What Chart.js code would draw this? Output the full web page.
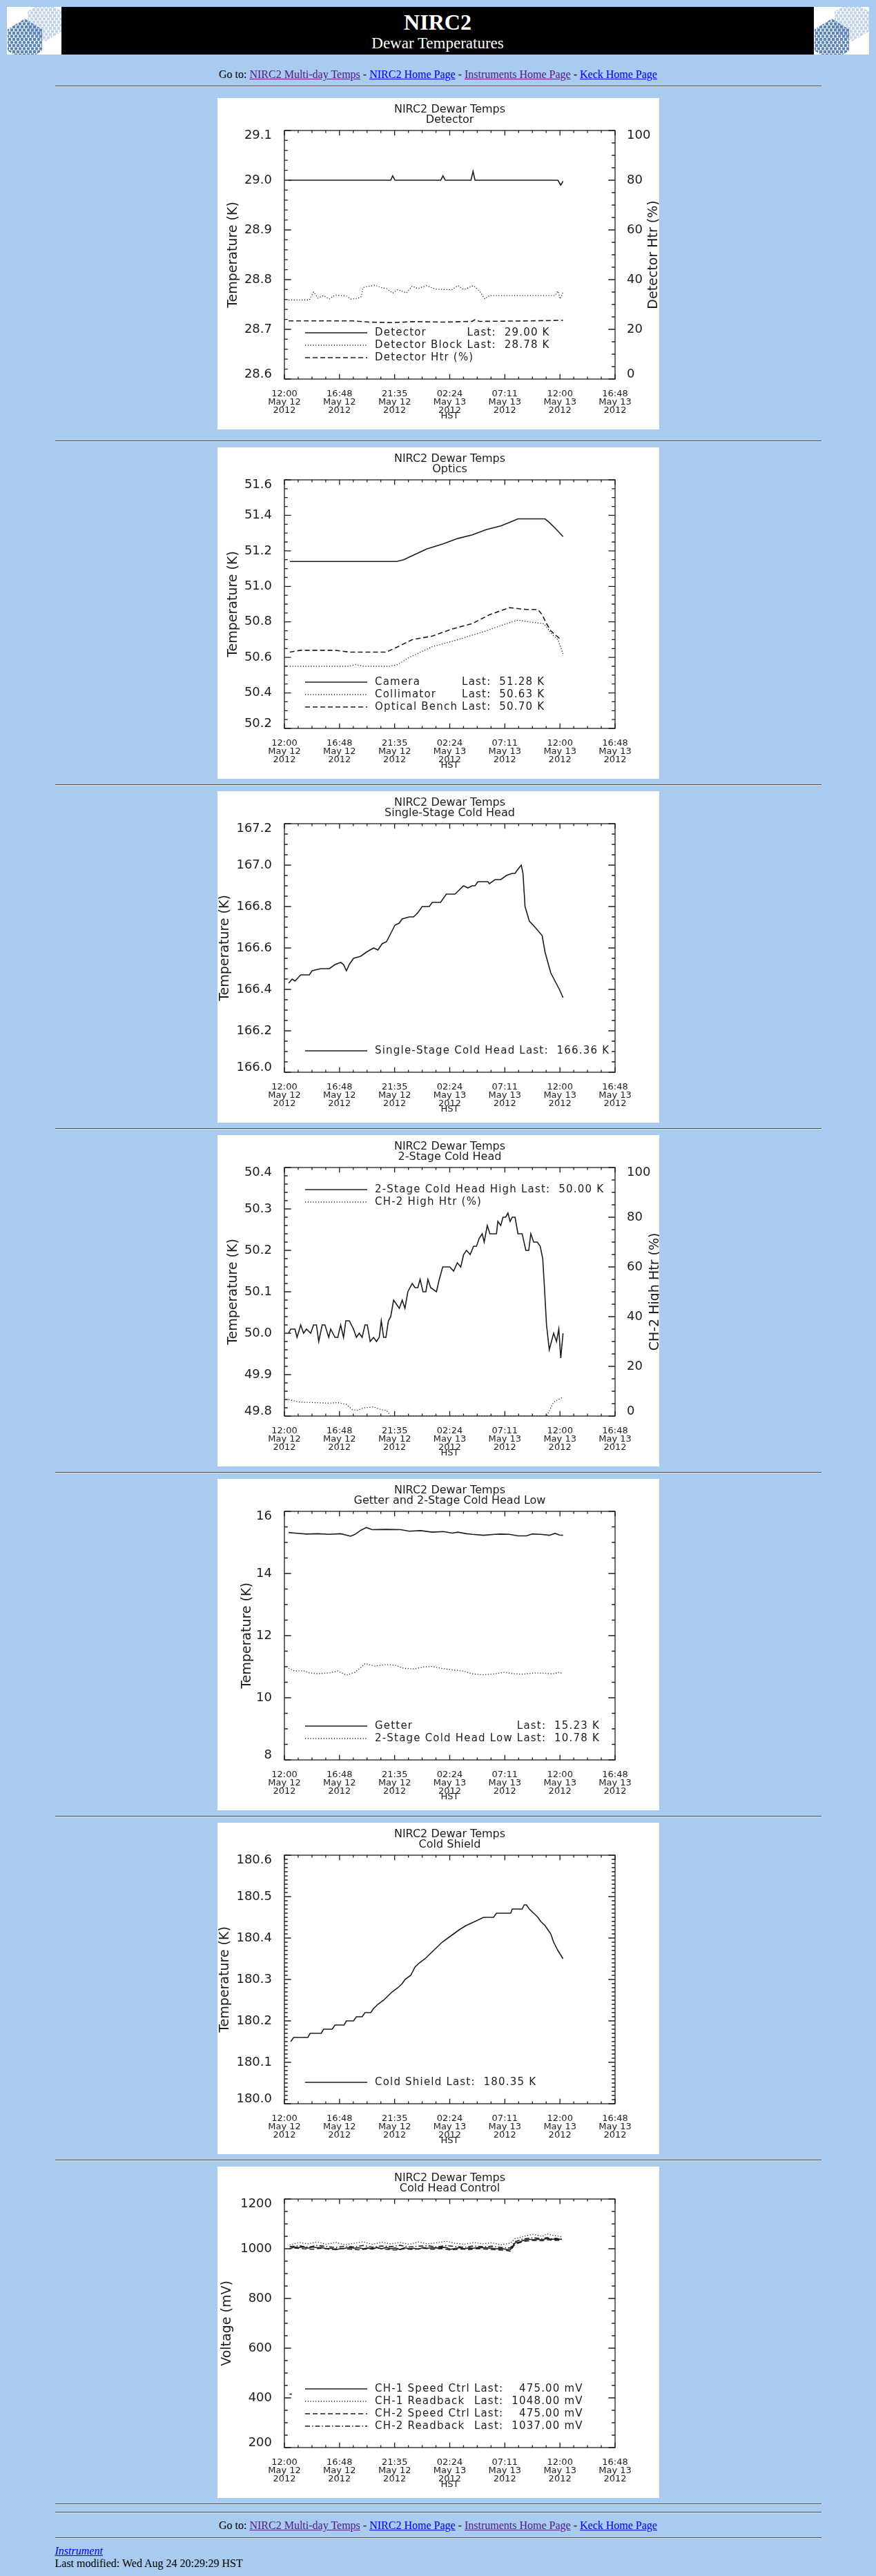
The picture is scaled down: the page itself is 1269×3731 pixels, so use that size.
<!DOCTYPE html>
<html>
<head>
<meta charset="utf-8">
<title>NIRC2 Dewar Temperatures</title>
<script src="https://cdn.jsdelivr.net/npm/chart.js@4.4.1/dist/chart.umd.min.js"></script>
<style>
  body { background: #a9cbf0; margin: 10px 10px 0 10px; font-family: "Liberation Serif", "Times New Roman", serif; font-size: 16px; color: #000; }
  .banner { display: flex; height: 69px; }
  .logo { width: 79px; background: #fff; position: relative; overflow: hidden; }
  .logo.r { width: 80px; }
  .hex { position: absolute; clip-path: polygon(50% 0, 100% 25%, 100% 75%, 50% 100%, 0 75%, 0 25%);
         background-image: radial-gradient(circle at 3px 3px, var(--c) 2.1px, transparent 2.7px),
                           radial-gradient(circle at 3px 3px, var(--c) 2.1px, transparent 2.7px);
         background-size: 6px 9px; background-position: 0 0, 3px 4.5px; }
  .hex.light { --c: #c3d3e6; left: 30px; top: -8px; width: 50px; height: 58px; }
  .hex.dark { --c: #5d84b2; left: 1px; top: 17px; width: 50px; height: 62px; }
  .mid { flex: 1; background: #000; color: #fff; text-align: center; }
  .mid .t1 { font-size: 32px; font-weight: bold; line-height: 36px; padding-top: 4px; }
  .mid .t2 { font-size: 23px; line-height: 26px; }
  .goto { text-align: center; line-height: 18px; margin: 0; }
  .goto a { text-decoration: underline; }
  a.v { color: #551a8b; }
  a.b { color: #0000ee; }
  hr { width: 1110px; margin: 8px auto; border: 0; border-top: 1px solid #4a4a4a; border-bottom: 1px solid #dfe6ee; height: 0; }
  canvas { display: block; margin: 0 auto; background: #fff; }
  .foot { width: 1110px; margin: 0 auto; line-height: 18px; }
</style>
</head>
<body>
<div class="banner">
  <div class="logo"><div class="hex light"></div><div class="hex dark"></div></div>
  <div class="mid"><div class="t1">NIRC2</div><div class="t2">Dewar Temperatures</div></div>
  <div class="logo r"><div class="hex light"></div><div class="hex dark"></div></div>
</div>
<p class="goto" style="margin-top:20px">Go to: <a class="v" href="#">NIRC2 Multi-day Temps</a> - <a class="b" href="#">NIRC2 Home Page</a> - <a class="v" href="#">Instruments Home Page</a> - <a class="b" href="#">Keck Home Page</a></p>
<hr style="margin-top:7px;margin-bottom:16px">
<canvas id="c1" width="640" height="480"></canvas>
<hr style="margin-top:16px">
<canvas id="c2" width="640" height="480"></canvas>
<hr>
<canvas id="c3" width="640" height="480"></canvas>
<hr>
<canvas id="c4" width="640" height="480"></canvas>
<hr>
<canvas id="c5" width="640" height="480"></canvas>
<hr>
<canvas id="c6" width="640" height="480"></canvas>
<hr>
<canvas id="c7" width="640" height="480"></canvas>
<hr style="margin-bottom:0">
<hr style="margin-top:10px;margin-bottom:9px">
<p class="goto">Go to: <a class="v" href="#">NIRC2 Multi-day Temps</a> - <a class="b" href="#">NIRC2 Home Page</a> - <a class="v" href="#">Instruments Home Page</a> - <a class="b" href="#">Keck Home Page</a></p>
<hr style="margin-bottom:9px">
<div class="foot"><a class="b" href="#"><i>Instrument</i></a><br>Last modified: Wed Aug 24 20:29:29 HST</div>

<script>
// NIRC2 dewar temperature plots, 12:00 May 12 -> 16:48 May 13 2012 (HST)
// x values are hours since 12:00 HST May 12

const xTickHours = [0, 4.8, 9.6, 14.4, 19.2, 24, 28.8];
const xTimeLabels = ['12:00', '16:48', '21:35', '02:24', '07:11', '12:00', '16:48'];
const xDateLabels = ['May 12', 'May 12', 'May 12', 'May 13', 'May 13', 'May 13', 'May 13'];
const xYearLabels = ['2012', '2012', '2012', '2012', '2012', '2012', '2012'];

const subtitles = ['Detector', 'Optics', 'Single-Stage Cold Head', '2-Stage Cold Head',
  'Getter and 2-Stage Cold Head Low', 'Cold Shield', 'Cold Head Control'];

// --- Detector
const detTicks = [28.6, 28.7, 28.8, 28.9, 29.0, 29.1];
const htrTicks = [0, 20, 40, 60, 80, 100];
const detectorPts = [[0.37, 29.0], [9.26, 29.0], [9.43, 29.009], [9.63, 29.0], [13.62, 29.0], [13.81, 29.009],
  [14.01, 29.0], [16.25, 29.0], [16.43, 29.018], [16.6, 29.0], [23.82, 29.0], [24.07, 28.99], [24.27, 28.998]];
const detBlockPts = [[0.37, 28.759], [2.17, 28.759], [2.54, 28.775], [2.91, 28.763], [3.41, 28.768], [3.91, 28.761],
  [4.41, 28.769], [4.9, 28.768], [5.4, 28.767], [5.77, 28.761], [6.4, 28.762], [6.7, 28.766], [6.85, 28.784],
  [7.39, 28.787], [7.89, 28.789], [8.39, 28.784], [8.89, 28.782], [9.43, 28.773], [9.88, 28.78], [10.63, 28.773],
  [11.13, 28.787], [11.62, 28.782], [12.37, 28.788], [13.12, 28.781], [13.86, 28.78], [14.61, 28.78], [15.11, 28.788],
  [15.61, 28.78], [16.48, 28.788], [16.98, 28.777], [17.47, 28.761], [17.85, 28.768], [21.33, 28.768], [23.57, 28.768],
  [23.82, 28.777], [24.02, 28.761], [24.27, 28.775]];
const detHtrPts = [[0.37, 23.4], [6.0, 23.4], [7.39, 22.9], [9.38, 22.7], [11.38, 23.1], [13.86, 22.9], [16.35, 23.2],
  [16.6, 23.9], [16.98, 23.2], [21.33, 23.4], [23.82, 23.6], [24.27, 23.6]];
const detLast = ['29.00 K', '28.78 K', null];

// --- Optics
const opticsTicks = [50.2, 50.4, 50.6, 50.8, 51.0, 51.2, 51.4, 51.6];
const cameraPts = [[0.47, 51.14], [9.76, 51.14], [10.38, 51.15], [11.38, 51.18], [12.37, 51.21], [13.86, 51.24],
  [15.11, 51.27], [16.35, 51.29], [17.6, 51.32], [18.84, 51.34], [19.59, 51.36], [20.34, 51.38], [22.7, 51.38],
  [23.07, 51.36], [23.7, 51.32], [24.27, 51.28]];
const collimatorPts = [[0.47, 50.55], [5.65, 50.55], [6.15, 50.56], [6.9, 50.55], [9.14, 50.55], [9.88, 50.56],
  [10.88, 50.6], [12.87, 50.66], [15.11, 50.7], [17.6, 50.75], [19.34, 50.79], [20.34, 50.81], [21.33, 50.8],
  [22.58, 50.79], [22.83, 50.77], [23.32, 50.73], [23.82, 50.7], [24.27, 50.62]];
const benchPts = [[0.47, 50.63], [1.42, 50.64], [4.41, 50.64], [5.65, 50.63], [8.89, 50.63], [9.88, 50.66],
  [11.13, 50.7], [12.87, 50.72], [14.61, 50.76], [16.35, 50.79], [17.85, 50.84], [19.59, 50.88], [21.08, 50.87],
  [22.08, 50.87], [22.45, 50.84], [22.83, 50.79], [23.2, 50.75], [24.07, 50.7]];
const opticsLast = ['51.28 K', '50.63 K', '50.70 K'];

// --- Single-stage cold head
const sscTicks = [166.0, 166.2, 166.4, 166.6, 166.8, 167.0, 167.2];
const sscPts = [[0.37, 166.43], [0.67, 166.45], [0.92, 166.44], [1.42, 166.47], [2.17, 166.47], [2.41, 166.49],
  [3.16, 166.5], [3.91, 166.5], [4.41, 166.52], [4.9, 166.53], [5.15, 166.52], [5.4, 166.49], [5.65, 166.52],
  [6.02, 166.55], [6.65, 166.56], [7.14, 166.58], [7.77, 166.6], [8.14, 166.59], [8.51, 166.62], [8.89, 166.63],
  [9.26, 166.67], [9.63, 166.71], [10.0, 166.72], [10.25, 166.74], [10.88, 166.75], [11.25, 166.75], [11.62, 166.77],
  [12.0, 166.8], [12.62, 166.8], [12.87, 166.82], [13.6, 166.82], [14.1, 166.86], [14.86, 166.86], [15.6, 166.9],
  [15.98, 166.89], [16.35, 166.9], [16.6, 166.9], [16.85, 166.92], [17.72, 166.92], [17.85, 166.91], [18.35, 166.93],
  [18.84, 166.93], [19.34, 166.95], [19.84, 166.96], [20.09, 166.96], [20.34, 166.98], [20.63, 167.0], [20.78, 166.96],
  [20.96, 166.8], [21.33, 166.73], [21.83, 166.7], [22.45, 166.66], [22.7, 166.58], [22.95, 166.53], [23.2, 166.48],
  [23.57, 166.44], [23.95, 166.4], [24.27, 166.36]];
const sscLast = ['166.36 K'];

// --- 2-stage cold head high
const ch2Ticks = [49.8, 49.9, 50.0, 50.1, 50.2, 50.3, 50.4];
const ch2HighPts = [[0.37, 50.0], [0.55, 50.01], [0.92, 50.01], [1.1, 49.99], [1.42, 50.02], [1.67, 50.0], [1.92, 50.01],
  [2.29, 50.0], [2.54, 50.02], [2.79, 50.02], [2.99, 49.98], [3.29, 50.02], [3.53, 50.02], [3.86, 49.99], [4.03, 50.01],
  [4.41, 49.99], [4.65, 49.99], [4.9, 50.02], [5.15, 49.99], [5.35, 50.03], [5.65, 50.03], [6.02, 50.01], [6.27, 49.99],
  [6.52, 50.0], [6.77, 49.99], [7.02, 50.02], [7.22, 50.02], [7.47, 49.98], [7.77, 49.99], [8.02, 49.98], [8.26, 49.99],
  [8.44, 50.03], [8.64, 49.99], [8.84, 49.99], [9.06, 50.03], [9.26, 50.04], [9.51, 50.08], [9.76, 50.07], [10.01, 50.06],
  [10.26, 50.08], [10.5, 50.06], [10.75, 50.1], [11.13, 50.12], [11.38, 50.11], [11.62, 50.11], [11.82, 50.13],
  [12.07, 50.1], [12.32, 50.1], [12.5, 50.13], [12.74, 50.11], [13.24, 50.1], [13.49, 50.13], [13.79, 50.16],
  [14.11, 50.16], [14.41, 50.16], [14.74, 50.15], [15.06, 50.17], [15.36, 50.16], [15.61, 50.19], [15.86, 50.2],
  [16.18, 50.19], [16.48, 50.21], [16.73, 50.21], [16.98, 50.23], [17.23, 50.24], [17.4, 50.22], [17.67, 50.26],
  [17.9, 50.24], [18.22, 50.24], [18.47, 50.24], [18.59, 50.27], [18.84, 50.26], [19.04, 50.28], [19.27, 50.28],
  [19.47, 50.29], [19.66, 50.27], [19.84, 50.28], [20.09, 50.28], [20.34, 50.24], [20.71, 50.24], [21.03, 50.2],
  [21.28, 50.2], [21.46, 50.24], [21.71, 50.22], [22.03, 50.22], [22.28, 50.21], [22.5, 50.18], [22.63, 50.12],
  [22.83, 50.02], [23.07, 49.96], [23.45, 50.0], [23.7, 49.98], [23.9, 50.01], [24.07, 49.94], [24.27, 50.0]];
const ch2HtrPts = [[0.37, 6.6], [1.42, 5.6], [2.66, 5.4], [3.91, 5.2], [4.65, 5.4], [5.4, 4.7], [5.9, 2.6], [6.4, 2.3],
  [6.9, 3.3], [7.77, 3.7], [8.39, 2.6], [8.89, 2.3], [9.26, 0], [22.83, 0], [23.45, 5.6], [24.2, 7.5]];
const ch2Last = ['50.00 K', null];

// --- Getter and 2-stage cold head low
const getterTicks = [8, 10, 12, 14, 16];
const getterPts = [[0.37, 15.32], [0.92, 15.3], [1.92, 15.27], [2.91, 15.28], [3.91, 15.26], [4.9, 15.28], [5.77, 15.2],
  [6.15, 15.26], [6.65, 15.39], [7.14, 15.48], [7.64, 15.41], [8.89, 15.42], [10.13, 15.41], [10.88, 15.36],
  [11.87, 15.38], [12.87, 15.33], [13.86, 15.35], [14.61, 15.3], [15.11, 15.33], [15.86, 15.28], [16.35, 15.26],
  [17.35, 15.23], [18.35, 15.26], [18.84, 15.27], [19.59, 15.26], [20.34, 15.21], [21.08, 15.21], [21.58, 15.27],
  [22.33, 15.26], [23.07, 15.23], [23.57, 15.29], [23.95, 15.24], [24.27, 15.23]];
const ch2LowPts = [[0.37, 10.95], [0.92, 10.86], [1.67, 10.87], [2.17, 10.8], [2.91, 10.78], [3.91, 10.8], [4.65, 10.86],
  [5.4, 10.73], [6.15, 10.82], [6.65, 10.97], [7.02, 11.1], [7.89, 11.02], [8.89, 11.07], [9.63, 11.05], [10.38, 10.95],
  [11.38, 10.93], [12.12, 10.99], [12.87, 11.01], [13.62, 10.95], [14.61, 10.9], [15.61, 10.86], [16.35, 10.77],
  [17.35, 10.74], [18.35, 10.77], [19.09, 10.82], [20.09, 10.77], [20.83, 10.76], [21.83, 10.8], [22.58, 10.79],
  [23.32, 10.77], [23.95, 10.82], [24.2, 10.78]];
const getterLast = ['15.23 K', '10.78 K'];

// --- Cold shield
const shieldTicks = [180.0, 180.1, 180.2, 180.3, 180.4, 180.5, 180.6];
const shieldPts = [[0.55, 180.15], [0.8, 180.16], [2.04, 180.16], [2.24, 180.17], [3.21, 180.17], [3.41, 180.18],
  [4.16, 180.18], [4.41, 180.19], [5.2, 180.19], [5.4, 180.2], [6.02, 180.2], [6.27, 180.21], [6.77, 180.21],
  [7.02, 180.22], [7.52, 180.22], [7.77, 180.23], [8.14, 180.24], [8.64, 180.25], [9.01, 180.26], [9.38, 180.27],
  [9.88, 180.28], [10.26, 180.29], [10.5, 180.3], [11.0, 180.31], [11.38, 180.33], [11.75, 180.34], [12.25, 180.35],
  [12.62, 180.36], [12.99, 180.37], [13.37, 180.38], [13.74, 180.39], [14.24, 180.4], [14.74, 180.41], [15.23, 180.42],
  [15.81, 180.43], [16.6, 180.44], [17.35, 180.45], [18.22, 180.45], [18.47, 180.46], [19.71, 180.46], [19.84, 180.47],
  [20.71, 180.47], [20.88, 180.48], [21.08, 180.48], [21.33, 180.47], [21.71, 180.46], [22.08, 180.45], [22.33, 180.44],
  [22.7, 180.43], [22.95, 180.42], [23.2, 180.41], [23.45, 180.39], [23.82, 180.37], [24.27, 180.35]];
const shieldLast = ['180.35 K'];

// --- Cold head control (mV)
const voltTicks = [200, 400, 600, 800, 1000, 1200];
const ch1SpeedPts = [[0.46, 1000], [0.86, 1007], [1.26, 1005], [1.66, 1007], [2.06, 1002], [2.46, 1007], [2.86, 1004],
  [3.26, 1005], [3.66, 1000], [4.06, 1002], [4.46, 996], [4.86, 1000], [5.26, 1002], [5.66, 1005], [6.06, 1002],
  [6.46, 1004], [6.86, 1000], [7.26, 1003], [7.66, 998], [8.06, 1005], [8.46, 1000], [8.86, 1005], [9.26, 1000],
  [9.66, 1003], [10.06, 997], [10.47, 1004], [10.87, 1000], [11.27, 1002], [11.67, 998], [12.07, 1005], [12.47, 1002],
  [12.87, 1004], [13.27, 1003], [13.67, 1006], [14.07, 1005], [14.47, 998], [14.87, 1001], [15.27, 1004], [15.67, 1000],
  [16.07, 1003], [16.47, 1002], [16.87, 1005], [17.27, 1004], [17.67, 1003], [18.07, 1002], [18.47, 1000], [18.87, 1001],
  [19.27, 998], [19.67, 996], [19.87, 1009], [20.07, 1023], [20.47, 1027], [20.87, 1035], [21.27, 1038], [21.67, 1036],
  [22.07, 1038], [22.47, 1036], [22.87, 1041], [23.27, 1038], [23.67, 1039], [24.17, 1038]];
const ch1ReadPts = [[0.46, 1015], [1.26, 1025], [2.06, 1020], [2.86, 1027], [3.66, 1018], [4.46, 1026], [5.26, 1016],
  [6.06, 1022], [6.86, 1028], [7.66, 1018], [8.46, 1026], [9.26, 1020], [10.06, 1025], [10.87, 1018], [11.67, 1027],
  [12.47, 1020], [13.27, 1024], [14.07, 1030], [14.87, 1022], [15.67, 1018], [16.47, 1025], [17.27, 1020], [18.07, 1024],
  [18.87, 1016], [19.67, 1022], [20.07, 1040], [20.87, 1050], [21.67, 1058], [22.47, 1050], [22.87, 1060], [23.27, 1055],
  [23.67, 1052], [24.17, 1048]];
const ch2SpeedPts = [[0.45, 415], [0.65, 415], [0.7, null], [0.86, 1003], [1.66, 1000], [2.46, 998], [3.26, 1002],
  [4.06, 997], [4.86, 1001], [5.66, 999], [6.46, 996], [7.26, 1000], [8.06, 1003], [8.86, 998], [9.66, 995], [10.47, 1000],
  [11.27, 997], [12.07, 1002], [12.87, 998], [13.67, 1001], [14.47, 995], [15.27, 999], [16.07, 997], [16.87, 1001],
  [17.67, 998], [18.47, 996], [19.27, 994], [19.67, 990], [20.07, 1018], [20.87, 1030], [21.67, 1034], [22.47, 1032],
  [22.87, 1036], [23.67, 1034], [24.17, 1034]];
const ch2ReadPts = [[0.46, 1008], [1.26, 1012], [2.06, 1006], [2.86, 1013], [3.66, 1009], [4.46, 1005], [5.26, 1010],
  [6.06, 1007], [6.86, 1013], [7.66, 1006], [8.46, 1011], [9.26, 1008], [10.06, 1014], [10.87, 1007], [11.67, 1010],
  [12.47, 1012], [13.27, 1007], [14.07, 1013], [14.87, 1009], [15.67, 1006], [16.47, 1011], [17.27, 1008], [18.07, 1010],
  [18.87, 1005], [19.67, 1003], [20.07, 1028], [20.87, 1040], [21.67, 1044], [22.47, 1040], [22.87, 1045], [23.27, 1040],
  [23.67, 1042], [24.17, 1037]];
const voltLast = ['475.00 mV', '1048.00 mV', '475.00 mV', '1037.00 mV'];

const ink = '#1c1c1c';
const SOLID = [], DOTTED = [1.2, 2.6], DASHED = [7, 4], DASHDOT = [7, 3, 1.5, 3];
const FONT = '"DejaVu Sans", sans-serif';

Chart.defaults.font.family = FONT;
Chart.defaults.color = ink;

function series(label, pts, dash, axis) {
  return {
    label,
    data: pts.map(p => ({ x: p[0], y: p[1] })),
    borderColor: ink,
    borderWidth: dash === DOTTED ? 1.3 : 1.6,
    borderDash: dash,
    pointRadius: 0,
    tension: 0,
    fill: false,
    spanGaps: false,
    yAxisID: axis || 'y'
  };
}

// minor/major tick positions between min and max
function steps(min, max, minor, major) {
  const out = [];
  const n = Math.round((max - min) / minor);
  for (let k = 0; k <= n; k++) {
    const r = k * minor / major;
    out.push([min + k * minor, Math.abs(r - Math.round(r)) < 1e-6]);
  }
  return out;
}

// IDL style box with inward ticks on all four sides, plus rotated right-axis title
const idlFrame = {
  id: 'idlFrame',
  afterDatasetsDraw(chart, args, o) {
    const { ctx, chartArea: a, scales } = chart;
    ctx.save();
    ctx.strokeStyle = ink;
    ctx.lineWidth = 1.3;
    ctx.strokeRect(a.left, a.top, a.right - a.left, a.bottom - a.top);
    ctx.beginPath();
    steps(xTickHours[0], xTickHours[xTickHours.length - 1], 1.2, 4.8).forEach(([v, major]) => {
      const px = scales.x.getPixelForValue(v);
      const len = major ? 7.2 : 3.6;
      ctx.moveTo(px, a.bottom); ctx.lineTo(px, a.bottom - len);
      ctx.moveTo(px, a.top); ctx.lineTo(px, a.top + len);
    });
    const L = o.left, R = o.right || o.left;
    const yr = scales.y2 || scales.y;
    steps(L.ticks[0], L.ticks[L.ticks.length - 1], L.minor, L.major).forEach(([v, major]) => {
      const py = scales.y.getPixelForValue(v);
      ctx.moveTo(a.left, py); ctx.lineTo(a.left + (major ? 9.6 : 4.8), py);
    });
    steps(R.ticks[0], R.ticks[R.ticks.length - 1], R.minor, R.major).forEach(([v, major]) => {
      const py = yr.getPixelForValue(v);
      ctx.moveTo(a.right, py); ctx.lineTo(a.right - (major ? 9.6 : 4.8), py);
    });
    ctx.stroke();
    if (o.right) {
      ctx.translate(o.right.titleX, (a.top + a.bottom) / 2);
      ctx.rotate(-Math.PI / 2);
      ctx.font = '19px ' + FONT;
      ctx.fillStyle = ink;
      ctx.textAlign = 'center';
      ctx.textBaseline = 'middle';
      ctx.fillText(o.right.title, 0, 0);
    }
    ctx.restore();
  }
};

// legend rows drawn inside the plot: line sample, name, "Last:" column
const idlLegend = {
  id: 'idlLegend',
  afterDraw(chart, args, o) {
    const { ctx, chartArea: a } = chart;
    const sets = chart.data.datasets;
    ctx.save();
    ctx.font = '15px ' + FONT;
    ctx.letterSpacing = '1.2px';
    ctx.fillStyle = ink;
    ctx.strokeStyle = ink;
    const x0 = a.left + 131;
    let nameW = 0, valW = 0;
    sets.forEach((d, i) => {
      if (o.last[i]) {
        nameW = Math.max(nameW, ctx.measureText(d.label + ' ').width);
        valW = Math.max(valW, ctx.measureText(o.last[i]).width);
      }
    });
    const lastW = ctx.measureText('Last:  ').width;
    sets.forEach((d, i) => {
      const y = o.anchor === 'top' ? a.top + 32 + i * 18 : a.bottom - 31 - (sets.length - 1 - i) * 18;
      ctx.lineWidth = d.borderWidth;
      ctx.setLineDash(d.borderDash);
      ctx.beginPath();
      ctx.moveTo(a.left + 30, y);
      ctx.lineTo(a.left + 120, y);
      ctx.stroke();
      ctx.setLineDash([]);
      ctx.textBaseline = 'middle';
      ctx.textAlign = 'left';
      ctx.fillText(d.label, x0, y);
      if (o.last[i]) {
        ctx.fillText('Last:', x0 + nameW, y);
        ctx.textAlign = 'right';
        ctx.fillText(o.last[i], x0 + nameW + lastW + valW, y);
      }
    });
    ctx.restore();
  }
};

function yScale(ax, position) {
  return {
    type: 'linear',
    position,
    min: ax.ticks[0],
    max: ax.ticks[ax.ticks.length - 1],
    grid: { display: false },
    border: { display: false },
    afterFit: s => { s.width = position === 'left' ? 97 : 64; },
    afterBuildTicks: s => { s.ticks = ax.ticks.map(v => ({ value: v })); },
    ticks: {
      padding: position === 'left' ? 10 : 9,
      autoSkip: false,
      font: { size: 18, lineHeight: '14px' },
      callback: (v, i, t) => {
        const txt = Number(v).toFixed(ax.decimals);
        if (i === 0) return [txt, ''];
        if (i === t.length - 1) return ['', txt];
        return txt;
      }
    },
    title: position === 'left'
      ? { display: true, text: ax.title, font: { size: 19 }, padding: { top: ax.titlePad, bottom: 0 } }
      : { display: false }
  };
}

function makeChart(id, subtitle, datasets, left, right, legend) {
  const scales = {
    x: {
      type: 'linear',
      min: xTickHours[0],
      max: xTickHours[xTickHours.length - 1],
      grid: { display: false },
      border: { display: false },
      afterFit: s => { s.height = 73; },
      afterBuildTicks: s => { s.ticks = xTickHours.map(v => ({ value: v })); },
      ticks: {
        padding: 8,
        autoSkip: false,
        maxRotation: 0,
        font: { size: 13, lineHeight: '12px' },
        callback: (v, i) => [xTimeLabels[i], xDateLabels[i], xYearLabels[i]]
      },
      title: { display: true, text: 'HST', font: { size: 13 }, padding: { top: 0, bottom: 12 } }
    },
    y: yScale(left, 'left')
  };
  if (right) scales.y2 = yScale(right, 'right');

  return new Chart(document.getElementById(id), {
    type: 'line',
    data: { datasets },
    options: {
      responsive: false,
      animation: false,
      devicePixelRatio: 1,
      events: [],
      layout: { padding: { right: right ? 0 : 64 } },
      scales,
      plugins: {
        legend: { display: false },
        tooltip: { enabled: false },
        title: {
          display: true,
          fullSize: false,
          text: ['NIRC2 Dewar Temps', subtitle],
          color: ink,
          font: { size: 16, weight: 'normal', lineHeight: '14.5px' },
          padding: { top: 10, bottom: 8 }
        },
        idlFrame: { left, right },
        idlLegend: legend
      }
    },
    plugins: [idlFrame, idlLegend]
  });
}

makeChart('c1', subtitles[0], [
  series('Detector', detectorPts, SOLID),
  series('Detector Block', detBlockPts, DOTTED),
  series('Detector Htr (%)', detHtrPts, DASHED, 'y2')
], { ticks: detTicks, decimals: 1, minor: 0.02, major: 0.1, title: 'Temperature (K)', titlePad: 12 },
   { ticks: htrTicks, decimals: 0, minor: 5, major: 20, title: 'Detector Htr (%)', titleX: 632 },
   { anchor: 'bottom', last: detLast });

makeChart('c2', subtitles[1], [
  series('Camera', cameraPts, SOLID),
  series('Collimator', collimatorPts, DOTTED),
  series('Optical Bench', benchPts, DASHED)
], { ticks: opticsTicks, decimals: 1, minor: 0.05, major: 0.2, title: 'Temperature (K)', titlePad: 12 },
   null, { anchor: 'bottom', last: opticsLast });

makeChart('c3', subtitles[2], [
  series('Single-Stage Cold Head', sscPts, SOLID)
], { ticks: sscTicks, decimals: 1, minor: 0.05, major: 0.2, title: 'Temperature (K)', titlePad: 0 },
   null, { anchor: 'bottom', last: sscLast });

makeChart('c4', subtitles[3], [
  series('2-Stage Cold Head High', ch2HighPts, SOLID),
  series('CH-2 High Htr (%)', ch2HtrPts, DOTTED, 'y2')
], { ticks: ch2Ticks, decimals: 1, minor: 0.02, major: 0.1, title: 'Temperature (K)', titlePad: 12 },
   { ticks: htrTicks, decimals: 0, minor: 5, major: 20, title: 'CH-2 High Htr (%)', titleX: 634 },
   { anchor: 'top', last: ch2Last });

makeChart('c5', subtitles[4], [
  series('Getter', getterPts, SOLID),
  series('2-Stage Cold Head Low', ch2LowPts, DOTTED)
], { ticks: getterTicks, decimals: 0, minor: 0.5, major: 2, title: 'Temperature (K)', titlePad: 32 },
   null, { anchor: 'bottom', last: getterLast });

makeChart('c6', subtitles[5], [
  series('Cold Shield', shieldPts, SOLID)
], { ticks: shieldTicks, decimals: 1, minor: 0.01, major: 0.1, title: 'Temperature (K)', titlePad: 0 },
   null, { anchor: 'bottom', last: shieldLast });

makeChart('c7', subtitles[6], [
  series('CH-1 Speed Ctrl', ch1SpeedPts, SOLID),
  series('CH-1 Readback', ch1ReadPts, DOTTED),
  series('CH-2 Speed Ctrl', ch2SpeedPts, DASHED),
  series('CH-2 Readback', ch2ReadPts, DASHDOT)
], { ticks: voltTicks, decimals: 0, minor: 50, major: 200, title: 'Voltage (mV)', titlePad: 3 },
   null, { anchor: 'bottom', last: voltLast });
</script>
</body>
</html>
